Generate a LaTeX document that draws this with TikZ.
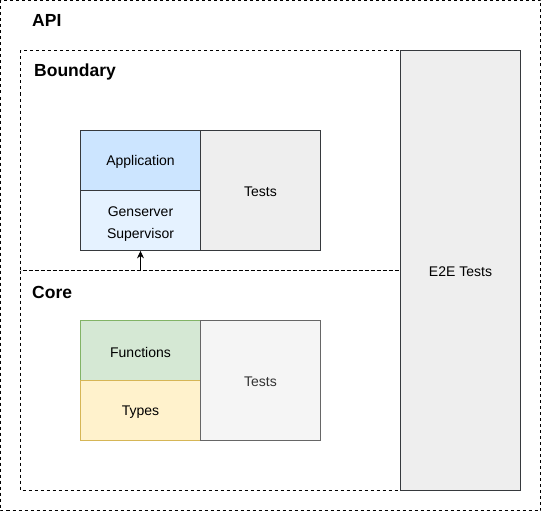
\documentclass[tikz,border=0pt]{standalone}
\usepackage{fontspec}
\setmainfont{Liberation Sans}
\usetikzlibrary{arrows.meta}
\definecolor{strokedark}{HTML}{36393D}
\definecolor{greyfill}{HTML}{EEEEEE}
\definecolor{appfill}{HTML}{CCE5FF}
\definecolor{genfill}{HTML}{E5F2FF}
\definecolor{funcfill}{HTML}{D5E8D4}
\definecolor{funcstroke}{HTML}{82B366}
\definecolor{typefill}{HTML}{FFF2CC}
\definecolor{typestroke}{HTML}{D6B656}
\definecolor{testfill}{HTML}{F5F5F5}
\definecolor{teststroke}{HTML}{666666}
\definecolor{testtext}{HTML}{333333}
\newcommand{\lowertext}[2][1.5pt]{\raisebox{-#1}[\height][\depth]{#2}}
\begin{document}
\begin{tikzpicture}[x=1pt,y=-1pt,
  zone/.style={draw=black,dash pattern=on 3pt off 3pt,line width=0.8pt},
  zonetitle/.style={anchor=west,font=\fontsize{17.5}{20}\selectfont\bfseries,inner sep=0pt},
  cell/.style={draw=strokedark,line width=0.8pt,inner sep=0pt,align=center,font=\fontsize{14}{21.5}\selectfont},
  conn/.style={draw=black,line width=0.8pt,-{Stealth[length=7.5pt,width=7pt]}}]
\useasboundingbox (0,0) rectangle (541,511);
% zones
\draw[zone] (0.5,0.5) rectangle (540.5,510.5);
\draw[zone] (20.5,50.5) rectangle (400.5,270.5);
\draw[zone] (20.5,270.5) rectangle (400.5,490.5);
\node[zonetitle] (api) at (32,20.5) {API};
\node[zonetitle] (boundary) at (34,72) {Boundary};
\node[zonetitle] (core) at (32,292) {Core};
% E2E
\node[cell,fill=greyfill,minimum width=120pt,minimum height=440pt] (e2e) at (460.5,270.5) {\lowertext{E2E Tests}};
% boundary
\node[cell,fill=appfill,minimum width=120pt,minimum height=60pt] (app) at (140.5,160.5) {\lowertext{Application}};
\node[cell,fill=genfill,minimum width=120pt,minimum height=60pt] (gen) at (140.5,220.5) {\lowertext[3.5pt]{\parbox{100pt}{\centering Genserver\\Supervisor}}};
\node[cell,fill=greyfill,minimum width=120pt,minimum height=120pt] (btests) at (260.5,190.5) {\lowertext{Tests}};
% core
\node[cell,draw=funcstroke,fill=funcfill,minimum width=120pt,minimum height=60pt] (func) at (140.5,350.5) {\lowertext{Functions}};
\node[cell,draw=typestroke,fill=typefill,minimum width=120pt,minimum height=60pt] (types) at (140.5,410.5) {\lowertext{Types}};
\node[cell,draw=teststroke,fill=testfill,text=testtext,minimum width=120pt,minimum height=120pt] (ctests) at (260.5,380.5) {\lowertext{Tests}};
% connector
\coordinate (arrstart) at (140.5,270.5);
\draw[conn] (arrstart) -- (gen.south);
\end{tikzpicture}
\end{document}
